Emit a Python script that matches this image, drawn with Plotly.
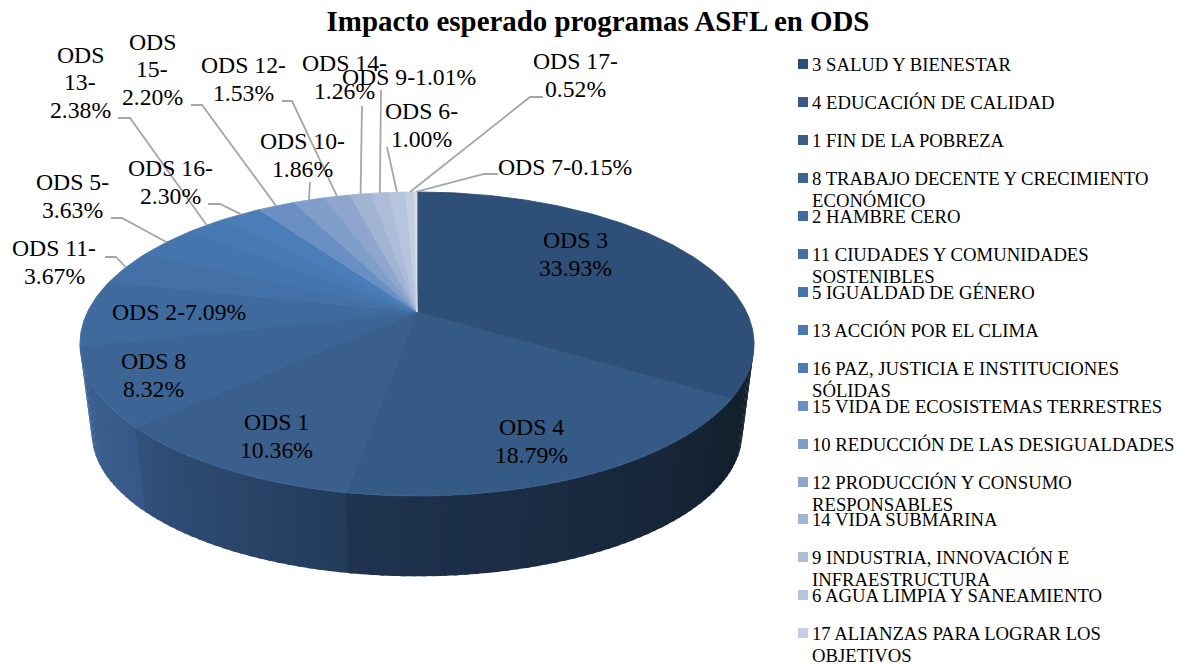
import math
import plotly.graph_objects as go

# ---------- data ----------
slice_ids = ["3", "4", "1", "8", "2", "11", "5", "13", "16", "15", "10", "12", "14", "9", "6", "17", "7"]
slice_values = [33.93, 18.79, 10.36, 8.32, 7.09, 3.67, 3.63, 2.38, 2.30, 2.20, 1.86, 1.53, 1.26, 1.01, 1.00, 0.52, 0.15]
legend_names = [
    "3 SALUD Y BIENESTAR", "4 EDUCACIÓN DE CALIDAD", "1 FIN DE LA POBREZA",
    "8 TRABAJO DECENTE Y CRECIMIENTO<br>ECONÓMICO", "2 HAMBRE CERO",
    "11 CIUDADES Y COMUNIDADES<br>SOSTENIBLES", "5 IGUALDAD DE GÉNERO",
    "13 ACCIÓN POR EL CLIMA", "16 PAZ, JUSTICIA E INSTITUCIONES<br>SÓLIDAS",
    "15 VIDA DE ECOSISTEMAS TERRESTRES", "10 REDUCCIÓN DE LAS DESIGUALDADES",
    "12 PRODUCCIÓN Y CONSUMO<br>RESPONSABLES", "14 VIDA SUBMARINA",
    "9 INDUSTRIA, INNOVACIÓN E<br>INFRAESTRUCTURA", "6 AGUA LIMPIA Y SANEAMIENTO",
    "17 ALIANZAS PARA LOGRAR LOS<br>OBJETIVOS",
]
label_texts = [
    "ODS 3<br>33.93%", "ODS 4<br>18.79%", "ODS 1<br>10.36%", "ODS 8<br>8.32%", "ODS 2-7.09%",
    "ODS 11-<br>3.67%", "ODS 5-<br>3.63%", "ODS<br>13-<br>2.38%", "ODS 16-<br>2.30%", "ODS<br>15-<br>2.20%",
    "ODS 10-<br>1.86%", "ODS 12-<br>1.53%", "ODS 14-<br>1.26%", "ODS 9-1.01%", "ODS 6-<br>1.00%",
    "ODS 17-<br>0.52%", "ODS 7-0.15%",
]
title_text = "Impacto esperado programas ASFL en ODS"

# ---------- styles and layout ----------
top_colors = ["#2e4f77", "#355a85", "#3a5f8d", "#3c6596", "#3f6a9e", "#4270a7", "#4575ad", "#4779b3", "#4b7db9",
              "#6a8fc2", "#7f9ec9", "#8fa5cd", "#a2b4d4", "#adbcd9", "#b7c4de", "#c5cfe3", "#d5dcea"]
wall_ramps = {"3": ("#13202f", "#13202e"), "4": ("#13202e", "#1f3350"), "1": ("#233b5a", "#30517a"),
              "8": ("#365886", "#3f6596")}
label_pos = [(575, 254), (531, 441), (276, 436), (153, 375), (179, 312), (54, 262), (72, 196), (80, 82), (170, 182),
             (152, 69), (302, 155), (243, 79), (344, 77), (409, 77), (421, 125), (575, 75), (565, 167)]
# leader stubs next to the label, the far end comes from the slice's own mid angle
leader_stub = {"11": [(105, 257), (116, 257)], "5": [(111, 218), (122, 218)], "13": [(118, 118), (130, 118)],
               "16": [(208, 204), (220, 204)], "15": [(191, 105), (202, 105)], "10": [(310, 182)],
               "12": [(282, 101), (292, 101)], "14": [(362, 106)], "9": [(381, 90)], "6": [(387, 147)],
               "17": [(543, 97), (530, 97)], "7": [(498, 174), (484, 174)]}
legend_y = [64, 102, 140, 178, 216, 254, 292, 330, 368, 406, 444, 482, 519, 557, 595, 633]
FONT = "Liberation Serif"
LABEL_SIZE, LABEL_PITCH = 23.7, 27.5
LEG_SIZE, LEG_PITCH = 18.7, 22
W, H = 1187, 666
CX, R_TOP, K = 417.0, 329.5, 0.2105
A_TOP, B_TOP = 312.0, -79.6
R_BOT, A_BOT, B_BOT = 318.0, 403.0, -52.0
WALL_FROM, WALL_TO = 102.0, 258.0


def project(deg, r, a, b):
    u, v = math.sin(math.radians(deg)), math.cos(math.radians(deg))
    w = 1 + K * v
    return CX + r * u / w, (a + b * v) / w


def top(deg):
    return project(deg, R_TOP, A_TOP, B_TOP)


def bot(deg):
    return project(deg, R_BOT, A_BOT, B_BOT)


def hex_mix(c1, c2, t):
    p = [int(c1[i:i + 2], 16) for i in (1, 3, 5)]
    q = [int(c2[i:i + 2], 16) for i in (1, 3, 5)]
    return "#%02x%02x%02x" % tuple(round(x + (y - x) * t) for x, y in zip(p, q))


total = sum(slice_values)
edges = [0.0]
for val in slice_values:
    edges.append(edges[-1] + val / total * 360)

fig = go.Figure()

# side wall: strips are drawn left to right and overlap the next one, so no seams show
for i, sid in reversed(list(enumerate(slice_ids))):
    s, e = max(edges[i], WALL_FROM), min(edges[i + 1], WALL_TO)
    if e <= s or sid not in wall_ramps:
        continue
    n = max(1, int((e - s) / 1.5))
    for j in range(n - 1, -1, -1):
        a0, a1 = s + (e - s) * j / n, s + (e - s) * (j + 1) / n
        a0_over = max(WALL_FROM, a0 - 0.6)
        c = hex_mix(*wall_ramps[sid], (j + 0.5) / n)
        p = [top(a0_over), top(a1), bot(a1), bot(a0_over), top(a0_over)]
        fig.add_trace(go.Scatter(x=[q[0] for q in p], y=[q[1] for q in p], mode="lines", fill="toself",
                                 fillcolor=c, line=dict(width=0), hoverinfo="skip", showlegend=False))

# top face
for i, sid in enumerate(slice_ids):
    n = max(2, int((edges[i + 1] - edges[i]) / 0.75))
    arc = [top(edges[i] + (edges[i + 1] - edges[i]) * j / n) for j in range(n + 1)]
    apex = (CX, A_TOP)
    p = [apex] + arc + [apex]
    fig.add_trace(go.Scatter(x=[q[0] for q in p], y=[q[1] for q in p], mode="lines", fill="toself",
                             fillcolor=top_colors[i], line=dict(color=top_colors[i], width=0.9),
                             name="ODS " + sid, text=f"ODS {sid}: {slice_values[i]}%", hoverinfo="text",
                             showlegend=False))

# leader lines
for i, sid in enumerate(slice_ids):
    if sid in leader_stub:
        p = leader_stub[sid] + [top((edges[i] + edges[i + 1]) / 2)]
        fig.add_trace(go.Scatter(x=[q[0] for q in p], y=[q[1] for q in p], mode="lines",
                                 line=dict(color="#a6a6a6", width=1.8), hoverinfo="skip", showlegend=False))

# legend swatches
fig.add_trace(go.Scatter(x=[803] * len(legend_y), y=legend_y, mode="markers",
                         marker=dict(symbol="square", size=10, color=top_colors[:len(legend_y)], line=dict(width=0)),
                         hoverinfo="skip", showlegend=False))

annotations = []
for (x, y), txt in zip(label_pos, label_texts):
    lines = txt.split("<br>")
    for k, line in enumerate(lines):
        annotations.append(dict(x=x, y=y + (k - (len(lines) - 1) / 2) * LABEL_PITCH, text=line, showarrow=False,
                                xanchor="center", yanchor="middle", font=dict(family=FONT, size=LABEL_SIZE, color="black")))
for y, txt in zip(legend_y, legend_names):
    for k, line in enumerate(txt.split("<br>")):
        annotations.append(dict(x=810, y=y + k * LEG_PITCH, text=line, showarrow=False, xanchor="left", yanchor="middle",
                                font=dict(family=FONT, size=LEG_SIZE, color="black")))

fig.update_layout(
    width=W, height=H, margin=dict(l=0, r=0, t=0, b=0), paper_bgcolor="white", plot_bgcolor="white",
    title=dict(text=title_text, x=598 / W, xanchor="center", y=1 - 21 / H, yanchor="middle",
               font=dict(family=FONT, size=28.9, color="black", weight="bold")),
    xaxis=dict(range=[0, W], visible=False, fixedrange=True),
    yaxis=dict(range=[H, 0], visible=False, fixedrange=True),
    annotations=annotations, showlegend=False,
)
fig.write_html("out.html", config={"displayModeBar": False},
               post_script="document.body.style.margin='0';document.body.style.overflow='hidden';")
